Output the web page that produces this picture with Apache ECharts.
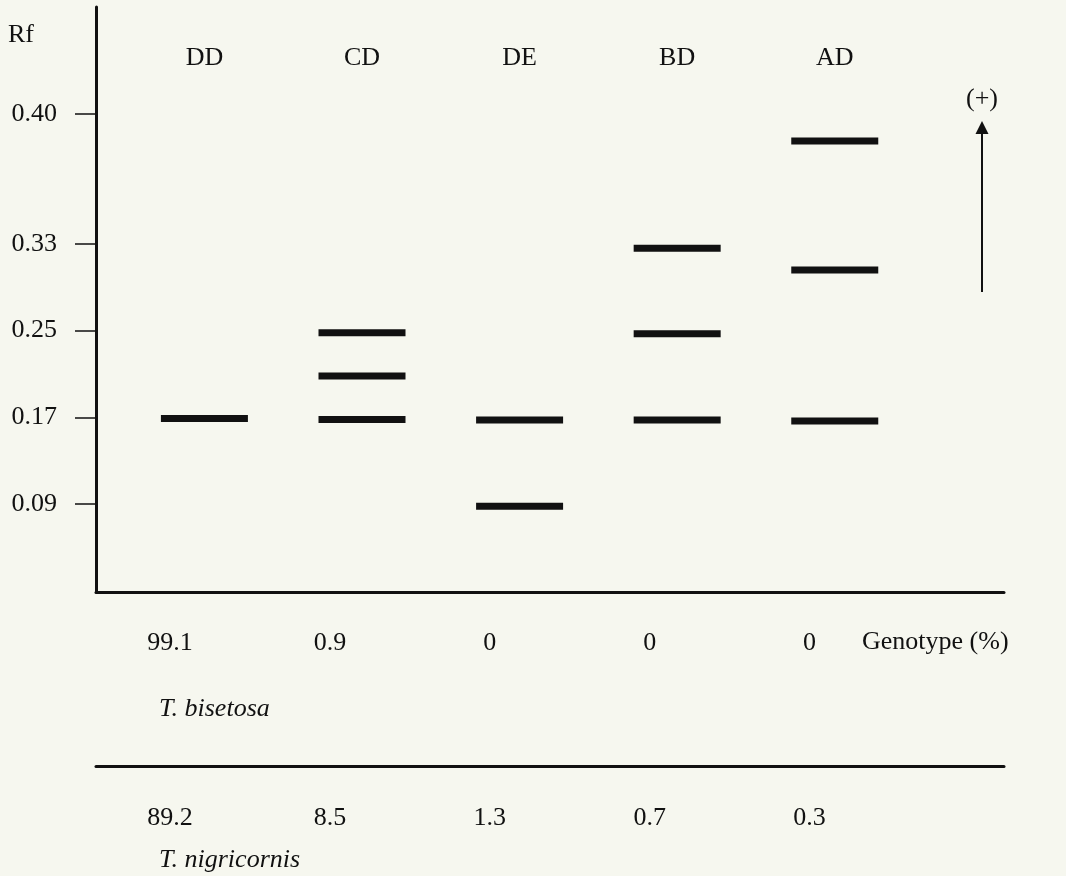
<!DOCTYPE html>
<html>
<head>
<meta charset="utf-8">
<script src="https://cdn.jsdelivr.net/npm/echarts@6/dist/echarts.min.js"></script>
<style>
html,body{margin:0;padding:0;background:#f6f7ef;}
#chart{width:1066px;height:876px;}
</style>
</head>
<body>
<div id="chart"></div>
<script>
// ---- data ----
const genotypes = ['DD', 'CD', 'DE', 'BD', 'AD'];
// Rf band positions for each genotype (as drawn)
const bandsDD = [0.169];
const bandsCD = [0.248, 0.208, 0.168];
const bandsDE = [0.1675, 0.088];
const bandsBD = [0.326, 0.247, 0.1675];
const bandsAD = [0.425, 0.306, 0.1666];
const pctBisetosa = ['99.1', '0.9', '0', '0', '0'];
const pctNigricornis = ['89.2', '8.5', '1.3', '0.7', '0.3'];
const yTickValues = [0.09, 0.17, 0.25, 0.33, 0.45];
const yTickLabels = ['0.09', '0.17', '0.25', '0.33', '0.40'];
const species = ['T. bisetosa', 'T. nigricornis'];

// ---- build ----
const allBands = [bandsDD, bandsCD, bandsDE, bandsBD, bandsAD];
const bandData = [];
allBands.forEach((arr, i) => arr.forEach(v => bandData.push([i, v])));

const FONT = 'Liberation Serif';
const INK = '#111';
const FS = 26;
const idxVals = genotypes.map((_, i) => i);

const chart = echarts.init(document.getElementById('chart'), null, {renderer: 'canvas'});
const option = {
  backgroundColor: '#f6f7ef',
  animation: false,
  grid: {left: 96, right: 62, top: 7, bottom: 284, containLabel: false},
  xAxis: [
    { // main axis for bands
      type: 'value', min: -0.688, max: 5.074, position: 'bottom',
      axisLine: {show: true, onZero: false, lineStyle: {color: INK, width: 3}},
      axisTick: {show: false}, axisLabel: {show: false}, splitLine: {show: false}
    },
    { // genotype names at the top
      type: 'value', min: -0.688, max: 5.074, position: 'top',
      axisLine: {show: false, onZero: false}, axisTick: {show: false}, splitLine: {show: false},
      axisLabel: {
        show: true, inside: true, margin: 38, customValues: idxVals,
        formatter: v => genotypes[Math.round(v)] || '',
        fontFamily: FONT, fontSize: FS, color: INK
      }
    },
    { // T. bisetosa percentages
      type: 'value', min: -0.4636, max: 5.217, position: 'bottom',
      axisLine: {show: false, onZero: false}, axisTick: {show: false}, splitLine: {show: false},
      axisLabel: {
        show: true, margin: 38, customValues: idxVals,
        formatter: v => pctBisetosa[Math.round(v)] || '',
        fontFamily: FONT, fontSize: FS, color: INK
      }
    },
    { // divider line + T. nigricornis percentages
      type: 'value', min: -0.4636, max: 5.217, position: 'bottom', offset: 174,
      axisLine: {show: true, onZero: false, lineStyle: {color: INK, width: 3}},
      axisTick: {show: false}, splitLine: {show: false},
      axisLabel: {
        show: true, margin: 39, customValues: idxVals,
        formatter: v => pctNigricornis[Math.round(v)] || '',
        fontFamily: FONT, fontSize: FS, color: INK
      }
    }
  ],
  yAxis: {
    type: 'value', min: 0.0088, max: 0.5486,
    axisLine: {show: true, onZero: false, lineStyle: {color: INK, width: 3}},
    axisTick: {show: true, inside: false, length: 21, customValues: yTickValues,
      lineStyle: {color: INK, width: 1.5}},
    splitLine: {show: false},
    axisLabel: {
      show: true, margin: 39, customValues: yTickValues,
      formatter: v => {
        let best = 0, d = Infinity;
        yTickValues.forEach((t, i) => { if (Math.abs(t - v) < d) { d = Math.abs(t - v); best = i; } });
        return yTickLabels[best];
      },
      fontFamily: FONT, fontSize: FS, color: INK, verticalAlign: 'middle', padding: [0, 0, 6, 0]
    }
  },
  series: [{
    type: 'scatter', xAxisIndex: 0, yAxisIndex: 0,
    symbol: 'rect', symbolSize: [87, 7],
    itemStyle: {color: INK, opacity: 1},
    emphasis: {disabled: true},
    data: bandData
  }],
  graphic: [
    {type: 'text', left: 8, top: 22, style: {text: 'Rf', fontFamily: FONT, fontSize: FS, fill: INK}},
    {type: 'text', left: 862, top: 629, style: {text: 'Genotype (%)', fontFamily: FONT, fontSize: FS, fill: INK}},
    {type: 'text', left: 159, top: 696, style: {text: species[0], fontFamily: FONT, fontSize: FS, fontStyle: 'italic', fill: INK}},
    {type: 'text', left: 159, top: 847, style: {text: species[1], fontFamily: FONT, fontSize: FS, fontStyle: 'italic', fill: INK}},
    {type: 'text', x: 982, y: 99, style: {text: '(+)', fontFamily: FONT, fontSize: FS, fill: INK, align: 'center', verticalAlign: 'middle'}},
    {type: 'line', shape: {x1: 982, y1: 292, x2: 982, y2: 130}, style: {stroke: INK, lineWidth: 2}},
    {type: 'polygon', shape: {points: [[982, 121], [975.5, 134], [988.5, 134]]}, style: {fill: INK}}
  ]
};
chart.setOption(option);
</script>
</body>
</html>
